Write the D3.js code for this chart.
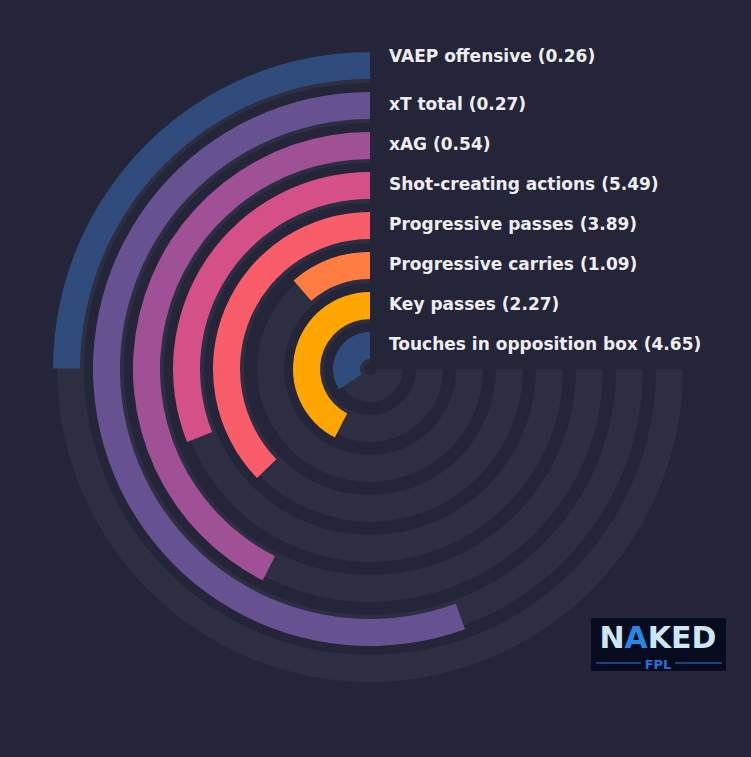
<!DOCTYPE html>
<html>
<head>
<meta charset="utf-8">
<script src="https://cdn.jsdelivr.net/npm/d3@7"></script>
<style>
  html, body { margin: 0; padding: 0; background: #252539; }
  svg { display: block; }
</style>
</head>
<body>
<svg id="chart" width="751" height="757"></svg>
<script>
// metrics listed from the outer ring to the inner ring
const metrics = ['VAEP offensive', 'xT total', 'xAG', 'Shot-creating actions', 'Progressive passes', 'Progressive carries', 'Key passes', 'Touches in opposition box'];
const values = [0.26, 0.27, 0.54, 5.49, 3.89, 1.09, 2.27, 4.65];
const percentiles = [33.3, 74.1, 56.7, 41.4, 49.6, 15.1, 56.6, 45.6];
const colors = ['#2f4b7c', '#665191', '#a05195', '#d45087', '#f95d6a', '#ff7c43', '#ffa600', '#2f4b7c'];

const width = 751, height = 757;
const cx = 370, cy = 369;
const bg = '#252539', track = '#2e2e43';

const svg = d3.select('#chart');
svg.append('rect').attr('width', width).attr('height', height).attr('fill', bg);

const g = svg.append('g').attr('transform', `translate(${cx},${cy})`);

// rings: innermost is the last metric
const r = d3.scaleBand()
  .domain(metrics.slice().reverse())
  .range([10, 317])
  .paddingInner(0.325)
  .paddingOuter(0);

// 100 percentile = three quarters of a turn, drawn counter-clockwise from the top
const angle = d3.scaleLinear().domain([0, 100]).range([0, -1.5 * Math.PI]);

const arc = d3.arc();

// background tracks (slightly inset)
g.selectAll('.track')
  .data(metrics)
  .enter()
  .append('path')
  .attr('class', 'track')
  .attr('fill', track)
  .attr('d', d => arc({
    innerRadius: r(d) - 4,
    outerRadius: r(d) + r.bandwidth() - 4,
    startAngle: 0,
    endAngle: angle(100)
  }));

// bars
g.selectAll('.bar')
  .data(metrics)
  .enter()
  .append('path')
  .attr('class', 'bar')
  .attr('fill', (d, i) => colors[i])
  .attr('d', (d, i) => arc({
    innerRadius: r(d),
    outerRadius: r(d) + r.bandwidth(),
    startAngle: 0,
    endAngle: angle(percentiles[i])
  }));

// labels
g.selectAll('.label')
  .data(metrics)
  .enter()
  .append('text')
  .attr('class', 'label')
  .attr('x', 19)
  .attr('y', (d, i) => -(r(d) + r.bandwidth()) + 12 + (i === 0 ? -8 : 0))
  .attr('dy', '0.35em')
  .attr('fill', '#eeeef4')
  .style('font-family', 'DejaVu Sans')
  .style('font-weight', 'bold')
  .style('font-size', '17px')
  .text((d, i) => `${d} (${values[i].toFixed(2)})`);

// logo
const logo = svg.append('g').attr('transform', 'translate(591,618)');
logo.append('rect').attr('width', 135).attr('height', 53).attr('fill', '#060b20');
logo.append('text')
  .attr('x', 67).attr('y', 30)
  .attr('text-anchor', 'middle')
  .attr('fill', '#cde6f4')
  .style('font-family', 'DejaVu Sans')
  .style('font-weight', 'bold')
  .style('font-size', '30px')
  .html('N<tspan fill="#2a86e0">A</tspan>KED');
logo.append('text')
  .attr('x', 67).attr('y', 51)
  .attr('text-anchor', 'middle')
  .attr('fill', '#2c6fd8')
  .style('font-family', 'DejaVu Sans')
  .style('font-weight', 'bold')
  .style('font-size', '13px')
  .text('FPL');
logo.append('line').attr('x1', 5).attr('x2', 50).attr('y1', 45).attr('y2', 45).attr('stroke', '#2a7fd6').attr('stroke-width', 1);
logo.append('line').attr('x1', 84).attr('x2', 131).attr('y1', 45).attr('y2', 45).attr('stroke', '#2a7fd6').attr('stroke-width', 1);
</script>
</body>
</html>
